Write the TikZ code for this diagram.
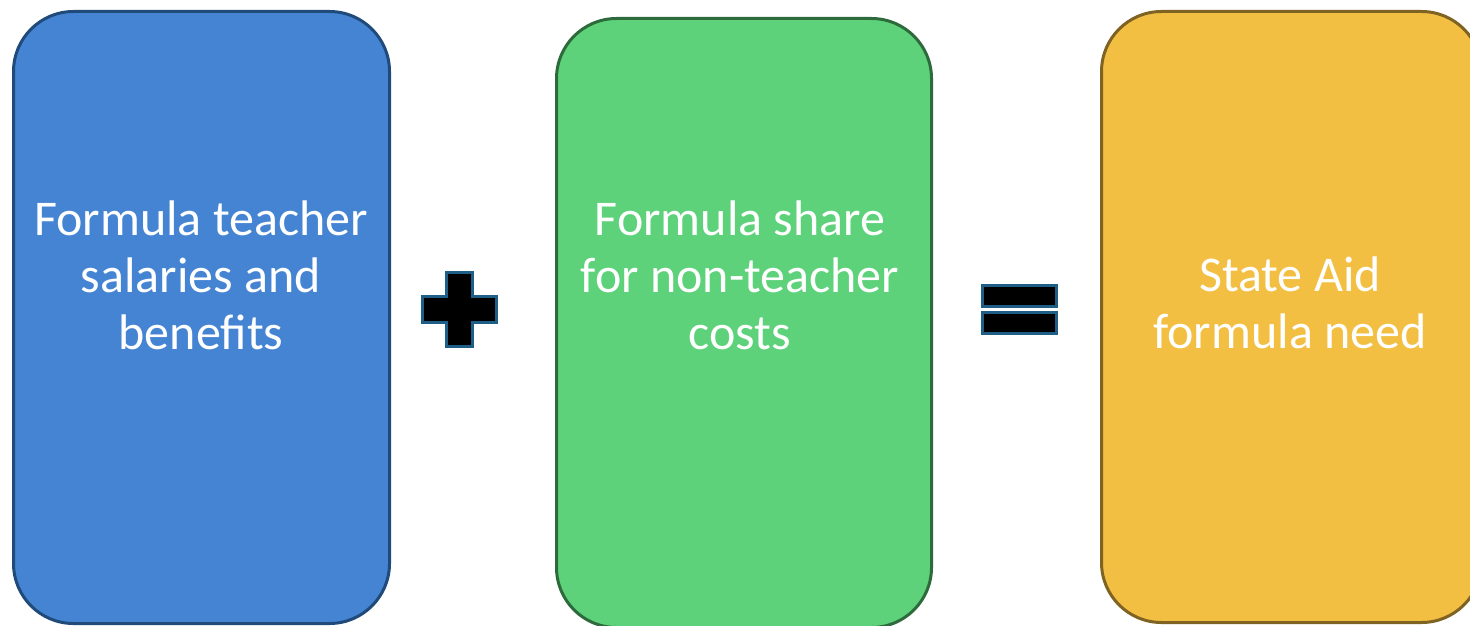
\documentclass[tikz,border=0pt]{standalone}
\usepackage{fontspec}
\setmainfont{Carlito}
\definecolor{bluefill}{HTML}{4584D3}
\definecolor{blueline}{HTML}{1F4A7A}
\definecolor{greenfill}{HTML}{5DD27A}
\definecolor{greenline}{HTML}{2E6B3C}
\definecolor{yellowfill}{HTML}{F3BF42}
\definecolor{yellowline}{HTML}{7F6322}
\definecolor{signline}{HTML}{1F5F87}
\begin{document}
\begin{tikzpicture}[x=1pt,y=-1pt,
  card/.style={rounded corners=60pt, line width=3pt, inner sep=0pt, anchor=north west},
  cardtext/.style={text=white, align=center, font=\fontsize{50}{57}\selectfont},
  sign/.style={fill=black, draw=signline, line width=3pt}]
\useasboundingbox (0,0) rectangle (1470,626);
\node[card, fill=bluefill, draw=blueline, minimum width=376pt, minimum height=612pt] (b1) at (12,10) {};
\node[card, fill=greenfill, draw=greenline, minimum width=375pt, minimum height=609pt] (b2) at (555,17) {};
\node[card, fill=yellowfill, draw=yellowline, minimum width=380pt, minimum height=611pt] (b3) at (1100,10) {};
\node[cardtext] (t1) at (201,275) {Formula teacher\\salaries and\\benefits};
\node[cardtext] (t2) at (740,275) {Formula share\\for non-teacher\\costs};
\node[cardtext] (t3) at (1290,303) {State Aid\\formula need};
\draw[sign] (446,272) -- (472,272) -- (472,296) -- (496,296) -- (496,322) -- (472,322) -- (472,346) -- (446,346) -- (446,322) -- (422,322) -- (422,296) -- (446,296) -- cycle;
\draw[sign] (982,285) rectangle (1056,306);
\draw[sign] (982,312) rectangle (1056,333);
\end{tikzpicture}
\end{document}
